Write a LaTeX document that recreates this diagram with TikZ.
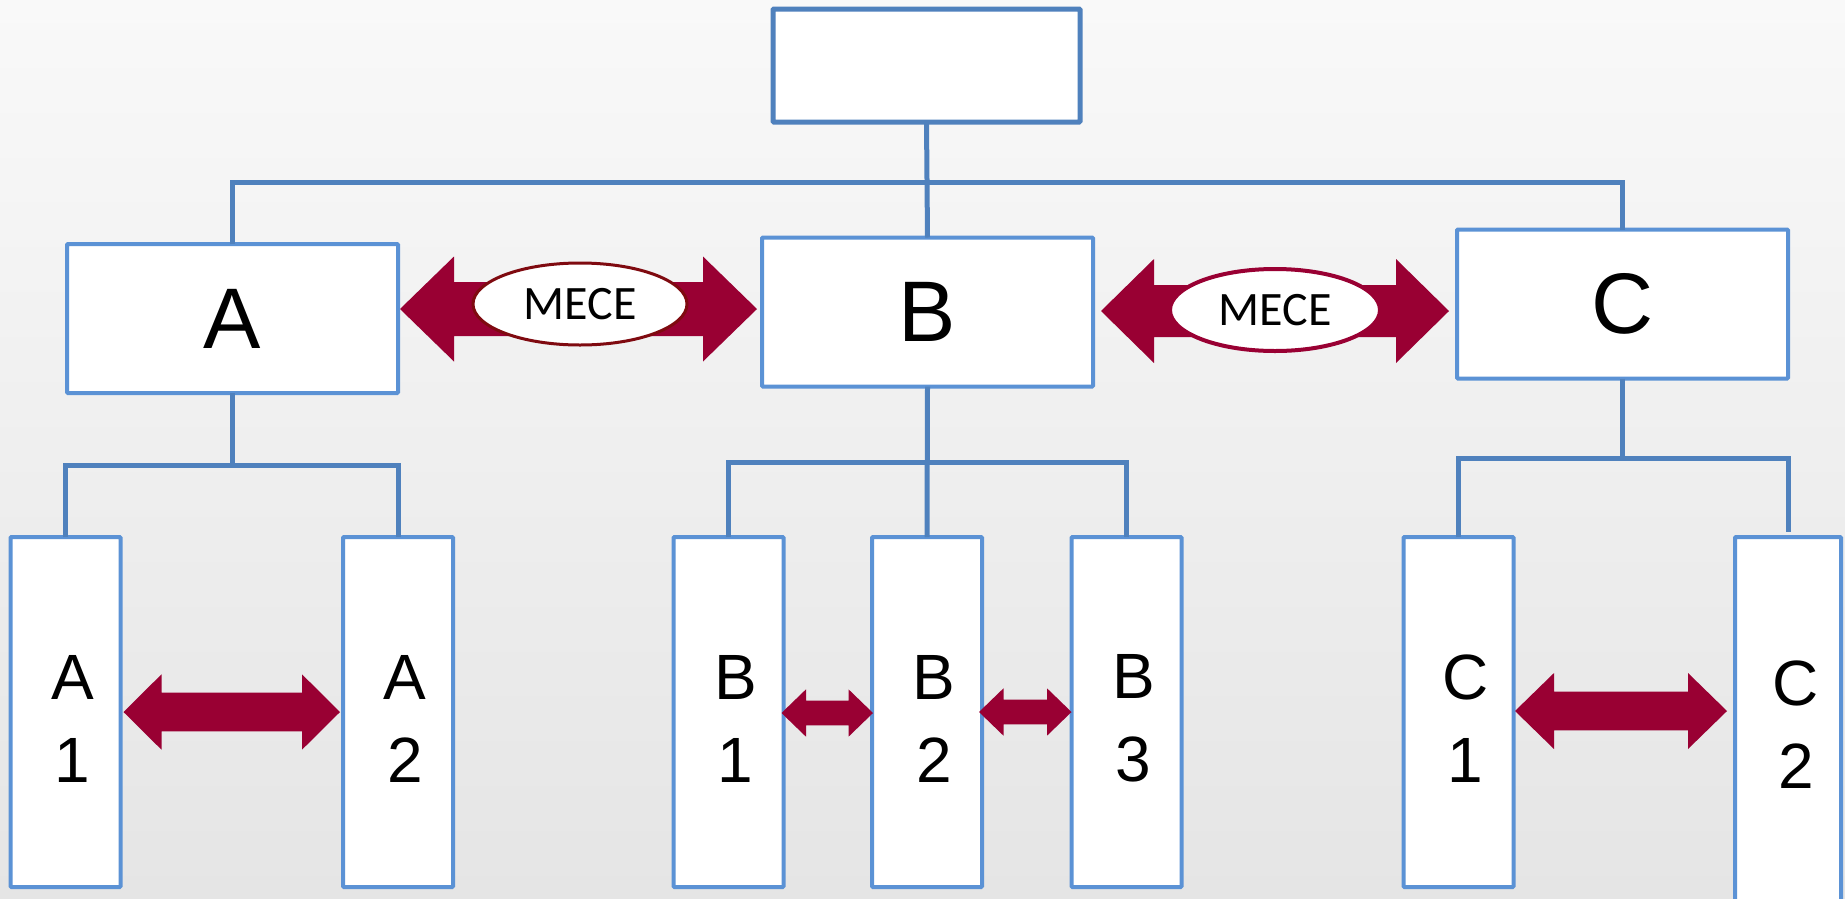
\documentclass[tikz,border=0pt]{standalone}
\usepackage{fontspec}
\setmainfont{Liberation Sans}
\newfontfamily\mecefont{Carlito}
\usetikzlibrary{calc,shapes.geometric}
\definecolor{boxblue}{HTML}{5B92D5}
\definecolor{linkblue}{HTML}{4F81BD}
\definecolor{crimson}{HTML}{990033}
\definecolor{darkred}{HTML}{7F0A10}
\definecolor{bgtop}{HTML}{F9F9F9}
\definecolor{bgbot}{HTML}{E5E5E5}
\newcommand\dbarrow[5]{%
  \fill[crimson] (#1) -- ($(#1)+(#3,-#4)$) -- ($(#1)+(#3,-#5)$) -- ($(#2)+(-#3,-#5)$) -- ($(#2)+(-#3,-#4)$) -- (#2)
   -- ($(#2)+(-#3,#4)$) -- ($(#2)+(-#3,#5)$) -- ($(#1)+(#3,#5)$) -- ($(#1)+(#3,#4)$) -- cycle;}
\newcommand\twoline[2]{\hspace*{14pt}#1\rule{0pt}{57pt}\\\hspace*{14pt}#2}
\begin{document}
\begin{tikzpicture}[x=1pt,y=-1pt,
  box/.style={draw=boxblue, line width=4, fill=white, rounded corners=1, inner sep=0, outer sep=0},
  topbox/.style={box, draw=linkblue, line width=5, minimum width=307, minimum height=113},
  midbox/.style={box, minimum width=331, minimum height=149, font=\fontsize{86}{100}\selectfont},
  subbox/.style={box, minimum width=110, minimum height=350, align=center, font=\fontsize{64}{83}\selectfont},
  subtxt/.style={align=center, inner sep=0, font=\fontsize{64}{83}\selectfont},
  conn/.style={draw=linkblue, line width=5},
  mece/.style={ellipse, fill=white, line width=3, inner sep=0, minimum width=214, minimum height=82, font=\mecefont\fontsize{48}{54}\selectfont}
]
\useasboundingbox (0,0) rectangle (1845,898);
\clip (0,0) rectangle (1845,898);
\shade[top color=bgtop, bottom color=bgbot] (0,0) rectangle (1845,898);

\coordinate (bus0) at (0,182);
\coordinate (busA) at (0,465);
\coordinate (busB) at (0,462);
\coordinate (busC) at (0,458);

\node[topbox] (T) at (926.5,65.5) {};
\node[midbox] (A) at (232.5,318.5) {A};
\node[midbox] (B) at (927.5,312) {B};
\node[midbox] (C) at (1622.5,304) {C};

\node[subbox] (A1) at (65.5,712) {\twoline{A}{1}};
\node[subbox] (A2) at (398,712) {\twoline{A}{2}};
\node[subbox] (B1) at (728.5,712) {\twoline{B}{1}};
\node[subbox] (B2) at (927,712) {\twoline{B}{2}};
\node[subbox] (B3) at (1126.5,712) {\twoline{B}{3}};
\node[subbox] (C1) at (1458.5,712) {\twoline{C}{1}};
\node[box, minimum width=106, minimum height=400] (C2) at (1788,737) {};
\node[subtxt] (C2t) at (1796,725) {C\\2};

\draw[conn] (T.south) -- (B.north);
\draw[conn] (A.north) -- (A.north |- bus0) -- (C.north |- bus0) -- (C.north);
\draw[conn] (A.south) -- (A.south |- busA);
\draw[conn] (A1.north) -- (A1.north |- busA) -- (A2.north |- busA) -- (A2.north);
\draw[conn] (B.south) -- (B2.north);
\draw[conn] (B1.north) -- (B1.north |- busB) -- (B3.north |- busB) -- (B3.north);
\draw[conn] (C.south) -- (C.south |- busC);
\draw[conn] (C1.north) -- (C1.north |- busC) -- (C2.north |- busC) -- ($(C2.north)+(0,-5)$);

% MECE arrows
\coordinate (m1l) at ($(A.east |- 0,309)+(2,0)$);
\coordinate (m1r) at ($(B.west |- 0,309)+(-5,0)$);
\dbarrow{m1l}{m1r}{54}{52.5}{27}
\node[mece, draw=darkred] (M1) at (580,304) {MECE};

\coordinate (m2l) at ($(B.east |- 0,311)+(8,0)$);
\coordinate (m2r) at ($(C.west |- 0,311)+(-8,0)$);
\dbarrow{m2l}{m2r}{53}{52}{26}
\node[mece, draw=crimson, line width=4, minimum width=210] (M2) at (1275,310) {MECE};

% sibling arrows
\coordinate (a1) at ($(A1.east)+(3,0)$);
\coordinate (a2) at ($(A2.west)+(-3,0)$);
\dbarrow{a1}{a2}{38}{37.7}{19.3}

\coordinate (b1) at ($(B1.east |- 0,713)+(-2,0)$);
\coordinate (b2) at ($(B2.west |- 0,713)+(1,0)$);
\dbarrow{b1}{b2}{24.5}{23.7}{12.3}

\coordinate (b3) at ($(B2.east |- 0,712)+(-3,0)$);
\coordinate (b4) at ($(B3.west |- 0,712)+(0,0)$);
\dbarrow{b3}{b4}{24.5}{23.7}{12.3}

\coordinate (c1) at ($(C1.east |- 0,711)+(1.5,0)$);
\coordinate (c2) at ($(C2.west |- 0,711)+(-8,0)$);
\dbarrow{c1}{c2}{39}{38}{19.3}
\end{tikzpicture}
\end{document}
